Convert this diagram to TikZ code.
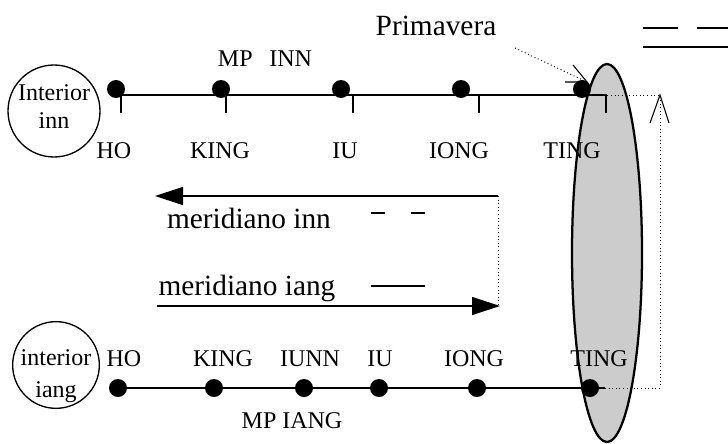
\documentclass[tikz,border=0pt]{standalone}
\usepackage{fontspec}
\setmainfont{Liberation Serif}
\usetikzlibrary{arrows.meta}
\definecolor{shade}{gray}{0.8}
\tikzset{
  lbl/.style={anchor=base,inner sep=0pt,font=\fontsize{18}{20}\selectfont},
  biglbl/.style={anchor=base,inner sep=0pt,font=\fontsize{22}{24}\selectfont},
  dotnode/.style={circle,fill=black,inner sep=0pt,minimum size=13.5pt},
  rail/.style={line width=1.4pt},
  tickmark/.style={line width=1.3pt},
  thin/.style={line width=0.8pt},
  guide/.style={dotted,line width=0.7pt},
  bigarrow/.style={line width=0.9pt,-{Triangle[length=21pt,width=13.5pt]}},
  legendline/.style={line width=2.2pt},
  ring/.style={circle,draw,line width=1pt,inner sep=0pt}
}
\begin{document}
\begin{tikzpicture}[x=0.75pt,y=-0.75pt]
\useasboundingbox (0,0) rectangle (728,443);

% the grey ellipse on the right
\draw[line width=1.7pt,fill=shade] (607,253) ellipse [x radius=35,y radius=189];

% inner circles
\node[ring,minimum size=69pt] (cinn) at (54,111) {};
\node[lbl] (tinn1) at (54,100) {Interior};
\node[lbl] (tinn2) at (54,128) {inn};
\node[ring,minimum size=65pt] (ciang) at (56,365) {};
\node[lbl] (tiang1) at (56,365) {interior};
\node[lbl] (tiang2) at (56,397) {iang};

% upper meridian
\coordinate (tl) at (117,95);
\coordinate (tr) at (607,95);
\draw[rail] (tl) -- (tr);
\foreach \n/\x in {a/121,b/226,c/353,d/479,e/606}{
  \coordinate (tk\n) at (\x,95);
  \draw[tickmark] (tk\n) -- ++(0,18);
}
\foreach \n/\x in {a/116,b/221,c/341,d/461,e/582}{
  \node[dotnode] (td\n) at (\x,89) {};
}
\node[lbl] (tho) at (114,158) {HO};
\node[lbl] (tking) at (220,158) {KING};
\node[lbl] (tiu) at (345,158) {IU};
\node[lbl] (tiong) at (459,158) {IONG};
\node[lbl] (tting) at (572,158) {TING};
\node[lbl] (mpinn) at (265,66) {MP\hspace{0.7em}INN};

% lower meridian
\coordinate (bl) at (117,388);
\coordinate (br) at (605,388);
\draw[rail] (bl) -- (br);
\foreach \n/\x in {a/118,b/214,c/304,d/379,e/477,f/590}{
  \node[dotnode] (bd\n) at (\x,388) {};
}
\node[lbl] (bho) at (124,366) {HO};
\node[lbl] (bking) at (223,366) {KING};
\node[lbl] (biunn) at (310,366) {IUNN};
\node[lbl] (biu) at (380,366) {IU};
\node[lbl] (biong) at (474,366) {IONG};
\node[lbl] (bting) at (599,366) {TING};
\node[lbl] (mpiang) at (292,428) {MP IANG};

% dotted return path on the right, with an open caret
\coordinate (rt) at (660,95);
\coordinate (rb) at (660,388);
\draw[guide] (br) -- (rb) -- (rt) -- (tr);
\draw[thin] ([shift={(-10,28)}]rt) -- (rt) -- ([shift={(9,28)}]rt);

% Primavera pointer
\node[biglbl] (prim) at (436,35) {Primavera};
\coordinate (ps) at (515,48);
\coordinate (pt) at (587,82);
\draw[guide] (ps) -- (pt);
\draw[thin] ([shift={(-14,-17)}]pt) -- (pt) -- ([shift={(-22,0)}]pt);

% top-right line fragments
\coordinate (la) at (643,28);
\coordinate (lb) at (678,28);
\coordinate (lc) at (697,28);
\coordinate (ld) at (728,28);
\coordinate (le) at (643,47);
\coordinate (lf) at (728,47);
\draw[thin] (la) -- (lb);
\draw[thin] (lc) -- (ld);
\draw[thin] (le) -- (lf);

% flow arrows in the middle
\coordinate (ua) at (498,196);
\coordinate (ub) at (155,196);
\coordinate (la2) at (157,306);
\coordinate (lb2) at (500,306);
\draw[bigarrow] (ua) -- (ub);
\draw[bigarrow] (la2) -- (lb2);
\draw[guide] (ua) -- (498,305);

% legend
\node[biglbl] (minn) at (249,228) {meridiano inn};
\node[biglbl] (miang) at (247,295) {meridiano iang};
\coordinate (d1) at (371,213);
\coordinate (d2) at (385,213);
\coordinate (d3) at (411,213);
\coordinate (d4) at (425,213);
\coordinate (s1) at (371,286);
\coordinate (s2) at (425,286);
\draw[legendline] (d1) -- (d2);
\draw[legendline] (d3) -- (d4);
\draw[legendline] (s1) -- (s2);
\end{tikzpicture}
\end{document}
